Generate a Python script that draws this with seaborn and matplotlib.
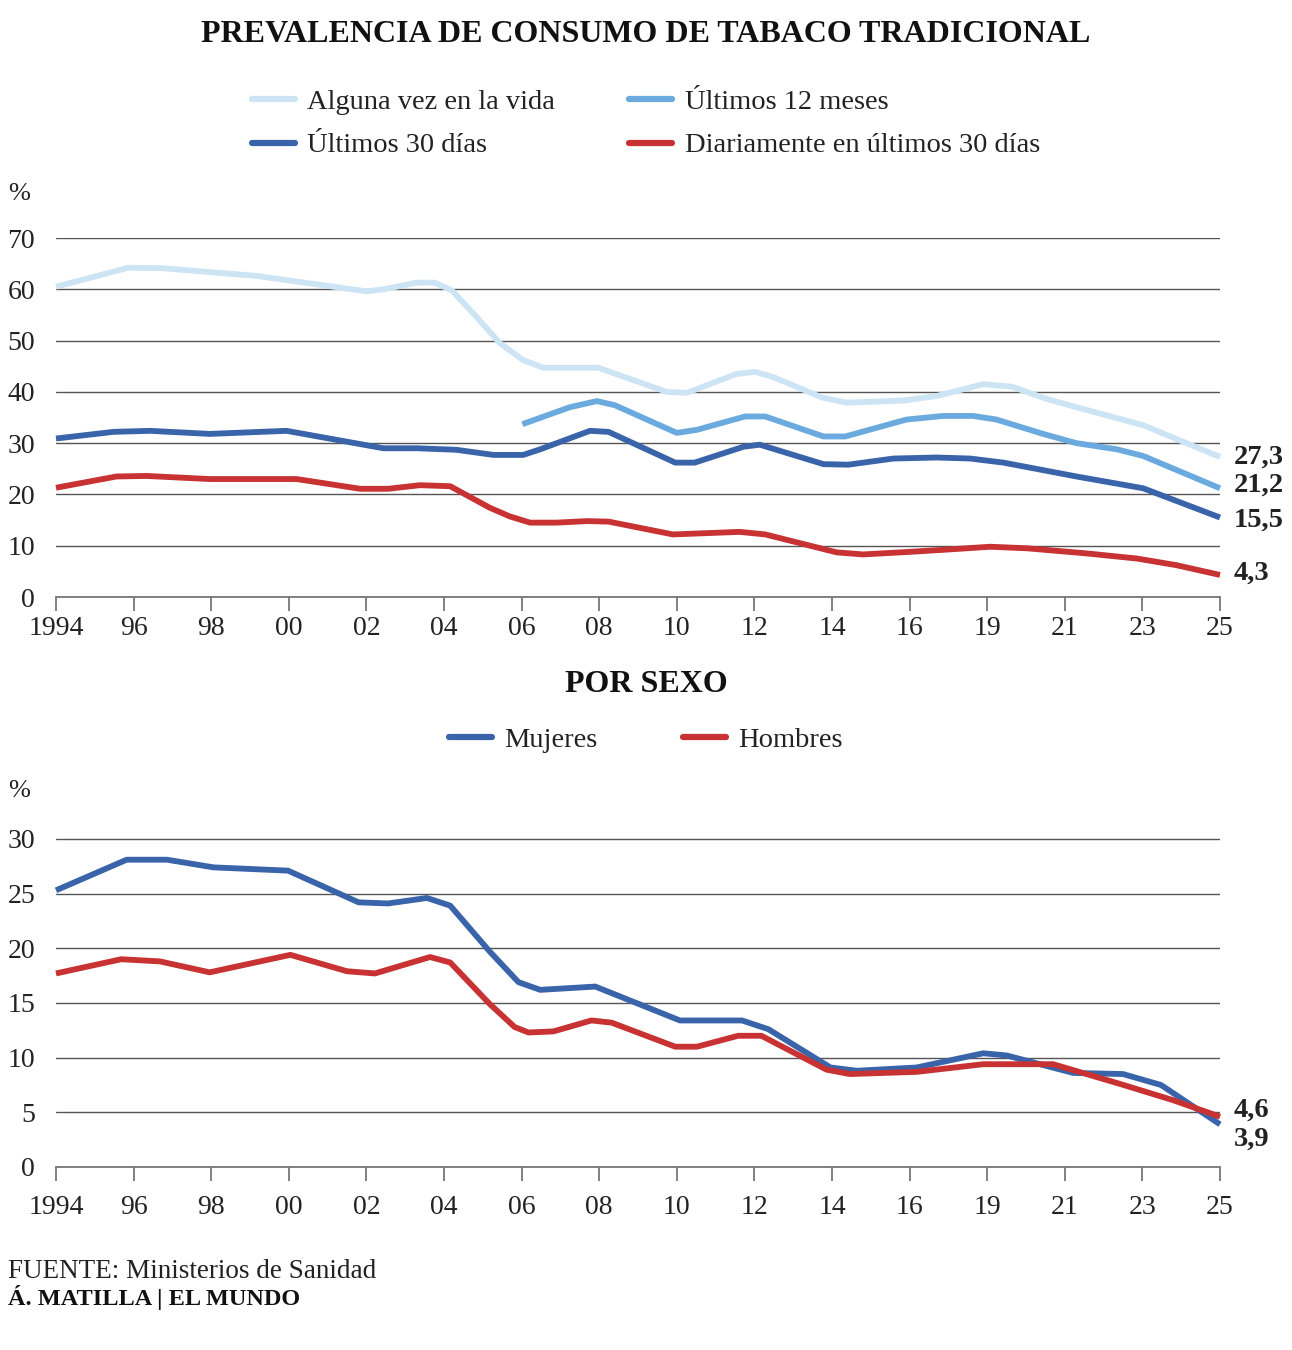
import seaborn as sns
import matplotlib.pyplot as plt
import pandas as pd
from matplotlib.lines import Line2D

# etiquetas del eje X (una marca por encuesta)
tick_labels = ['1994', '96', '98', '00', '02', '04', '06', '08',
               '10', '12', '14', '16', '19', '21', '23', '25']

# posiciones en unidades de marca (0 = 1994 ... 15 = 2025)
alguna_x = [0, 0.93, 1.38, 2.59, 4.0, 4.22, 4.65, 4.88, 5.1, 5.42, 5.72, 6.02, 6.28, 6.99,
            7.87, 8.13, 8.77, 9.01, 9.24, 9.87, 10.19, 10.92, 11.35, 11.95, 12.32, 12.77,
            13.2, 14.01, 15.0]
alguna_y = [60.5, 64.2, 64.1, 62.6, 59.6, 60.0, 61.3, 61.3, 59.8, 54.6, 49.5, 46.2, 44.7, 44.7,
            40.0, 39.8, 43.5, 43.9, 42.9, 38.9, 37.9, 38.3, 39.2, 41.5, 41.0, 38.6,
            36.8, 33.5, 27.3]

meses12_x = [6.01, 6.62, 6.97, 7.2, 8.0, 8.26, 8.88, 9.14, 9.89, 10.17, 10.96, 11.43, 11.82,
             12.12, 12.72, 13.15, 13.67, 14.01, 15.0]
meses12_y = [33.7, 37.0, 38.2, 37.4, 32.0, 32.6, 35.2, 35.2, 31.3, 31.3, 34.6, 35.3, 35.3,
             34.6, 31.8, 30.0, 28.8, 27.5, 21.2]

dias30_x = [0, 0.74, 1.21, 1.98, 2.97, 4.22, 4.65, 5.16, 5.64, 6.02, 6.24, 6.88, 7.12, 7.98,
            8.23, 8.86, 9.07, 9.89, 10.21, 10.79, 11.35, 11.78, 12.21, 13.15, 14.01, 15.0]
dias30_y = [30.9, 32.2, 32.4, 31.8, 32.4, 29.0, 29.0, 28.7, 27.7, 27.7, 28.8, 32.4, 32.2, 26.2,
            26.2, 29.3, 29.7, 25.9, 25.8, 27.0, 27.2, 27.0, 26.2, 23.5, 21.2, 15.5]

diario_x = [0, 0.78, 1.17, 1.98, 3.1, 3.92, 4.28, 4.69, 5.08, 5.59, 5.85, 6.11, 6.45, 6.84,
            7.12, 7.95, 8.81, 9.14, 10.06, 10.4, 11.0, 11.43, 12.04, 12.51, 13.28, 13.93,
            14.44, 15.0]
diario_y = [21.3, 23.5, 23.6, 23.0, 23.0, 21.1, 21.1, 21.8, 21.6, 17.4, 15.7, 14.5, 14.5, 14.8,
            14.7, 12.2, 12.7, 12.2, 8.7, 8.3, 8.8, 9.2, 9.8, 9.5, 8.5, 7.5,
            6.2, 4.3]

mujeres_x = [0, 0.91, 1.43, 2.03, 2.99, 3.9, 4.28, 4.78, 5.08, 5.59, 5.96, 6.24, 6.95, 8.04,
             8.84, 9.18, 9.98, 10.32, 11.09, 11.95, 12.25, 13.11, 13.75, 14.24, 15.0]
mujeres_y = [25.3, 28.1, 28.1, 27.4, 27.1, 24.2, 24.1, 24.6, 23.9, 19.7, 16.9, 16.2, 16.5, 13.4,
             13.4, 12.6, 9.1, 8.8, 9.1, 10.4, 10.2, 8.6, 8.5, 7.5, 3.9]

hombres_x = [0, 0.84, 1.34, 1.98, 3.02, 3.75, 4.11, 4.82, 5.08, 5.59, 5.91, 6.09, 6.41, 6.9,
             7.16, 7.98, 8.26, 8.79, 9.09, 9.93, 10.23, 11.09, 11.95, 12.85, 13.71, 14.4, 15.0]
hombres_y = [17.7, 19.0, 18.8, 17.8, 19.4, 17.9, 17.7, 19.2, 18.7, 14.9, 12.8, 12.3, 12.4, 13.4,
             13.2, 11.0, 11.0, 12.0, 12.0, 8.9, 8.5, 8.7, 9.4, 9.4, 7.6, 6.1, 4.6]

series_top = ['Alguna vez en la vida', 'Últimos 12 meses', 'Últimos 30 días',
              'Diariamente en últimos 30 días']
series_bottom = ['Mujeres', 'Hombres']

colores = {
    'Alguna vez en la vida': '#cde4f4',
    'Últimos 12 meses': '#6aaade',
    'Últimos 30 días': '#3a64aa',
    'Diariamente en últimos 30 días': '#c83232',
    'Mujeres': '#3a64aa',
    'Hombres': '#c83232',
}


def to_long(pairs):
    frames = []
    for name, xs, ys in pairs:
        frames.append(pd.DataFrame({'pos': xs, 'valor': ys, 'serie': name}))
    return pd.concat(frames, ignore_index=True)


df_top = to_long([
    (series_top[0], alguna_x, alguna_y),
    (series_top[1], meses12_x, meses12_y),
    (series_top[2], dias30_x, dias30_y),
    (series_top[3], diario_x, diario_y),
])
df_bottom = to_long([
    (series_bottom[0], mujeres_x, mujeres_y),
    (series_bottom[1], hombres_x, hombres_y),
])

sns.set_theme(style='white')
plt.rcParams['font.family'] = ['Liberation Serif', 'DejaVu Serif']
TXT = '#222222'

fig = plt.figure(figsize=(12.92, 13.5), dpi=100)
W, H = 1292, 1350


def axes_px(x0, y_top, x1, y_bot):
    return fig.add_axes([x0 / W, 1 - y_bot / H, (x1 - x0) / W, (y_bot - y_top) / H])


def style_axes(ax, ymax, ytop, ystep, xpad):
    ax.set_xlim(0, 15)
    ax.set_ylim(0, ytop)
    ax.set_xticks(range(len(tick_labels)))
    ax.set_xticklabels(tick_labels)
    ax.set_yticks(range(0, ymax + 1, ystep))
    ax.set_xlabel('')
    ax.set_ylabel('')
    ax.yaxis.grid(True, color='#555555', linewidth=1)
    ax.xaxis.grid(False)
    for s in ['left', 'top', 'right']:
        ax.spines[s].set_visible(False)
    ax.spines['bottom'].set_color('#777777')
    ax.spines['bottom'].set_linewidth(1.3)
    ax.tick_params(axis='x', length=10, width=1.3, color='#777777', direction='out',
                   labelsize=20, pad=xpad, labelcolor=TXT, bottom=True)
    ax.tick_params(axis='y', length=0, pad=15, labelsize=20, labelcolor=TXT)
    ax.set_facecolor('none')


# ---- grafico superior ----
ax1 = axes_px(56, 238, 1220, 597)
sns.lineplot(data=df_top, x='pos', y='valor', hue='serie', hue_order=series_top,
             palette=colores, linewidth=4.2, sort=False, estimator=None, legend=False, ax=ax1)
for line in ax1.lines:
    line.set_clip_on(False)
    line.set_solid_capstyle('butt')
style_axes(ax1, 70, 70, 10, 4)

ends_top = [(alguna_y[-1], 0), (meses12_y[-1], 2), (dias30_y[-1], -2), (diario_y[-1], 1)]
for val, dy in ends_top:
    ax1.annotate(f'{val:.1f}'.replace('.', ','), xy=(15, val), xytext=(10, dy),
                 textcoords='offset points', ha='left', va='center', fontsize=20.5,
                 fontweight='bold', color=TXT, annotation_clip=False)

# ---- grafico inferior ----
ax2 = axes_px(56, 828, 1220, 1167)
sns.lineplot(data=df_bottom, x='pos', y='valor', hue='serie', hue_order=series_bottom,
             palette=colores, linewidth=4.2, sort=False, estimator=None, legend=False, ax=ax2)
for line in ax2.lines:
    line.set_clip_on(False)
    line.set_solid_capstyle('butt')
style_axes(ax2, 30, 31, 5, 10)

ax2.annotate('4,6', xy=(15, hombres_y[-1]), xytext=(10, 5), textcoords='offset points',
             ha='left', va='center', fontsize=20.5, fontweight='bold', color=TXT,
             annotation_clip=False)
ax2.annotate('3,9', xy=(15, mujeres_y[-1]), xytext=(10, -11), textcoords='offset points',
             ha='left', va='center', fontsize=20.5, fontweight='bold', color=TXT,
             annotation_clip=False)

# ---- textos ----
fig.text(0.5, 1 - 35 / H, 'PREVALENCIA DE CONSUMO DE TABACO TRADICIONAL', ha='center',
         va='center', fontsize=23, fontweight='bold', color='#111111')
fig.text(0.5, 1 - 685 / H, 'POR SEXO', ha='center', va='center', fontsize=23,
         fontweight='bold', color='#111111')
fig.text(8 / W, 1 - 194 / H, '%', ha='left', va='center', fontsize=19, color=TXT)
fig.text(8 / W, 1 - 791 / H, '%', ha='left', va='center', fontsize=19, color=TXT)

legend_order = [series_top[0], series_top[2], series_top[1], series_top[3]]
h_top = [Line2D([], [], color=colores[s], linewidth=4.5) for s in legend_order]
fig.legend(h_top, legend_order, ncol=2,
           loc='center', bbox_to_anchor=(646 / W, 1 - 124 / H), frameon=False, fontsize=20.5,
           handlelength=1.5, handletextpad=0.45, columnspacing=2.6, labelspacing=0.6,
           labelcolor=TXT)

h_bot = [Line2D([], [], color=colores[s], linewidth=4.5) for s in series_bottom]
fig.legend(h_bot, series_bottom, ncol=2, loc='center', bbox_to_anchor=(646 / W, 1 - 740 / H),
           frameon=False, fontsize=20.5, handlelength=1.5, handletextpad=0.45,
           columnspacing=3.0, labelcolor=TXT)

fig.text(8 / W, 1 - 1272 / H, 'FUENTE: Ministerios de Sanidad', ha='left', va='center',
         fontsize=19.5, color=TXT)
fig.text(8 / W, 1 - 1298 / H, 'Á. MATILLA | EL MUNDO', ha='left', va='center',
         fontsize=17.5, fontweight='bold', color='#111111')

fig.savefig('out.png', dpi=100)
